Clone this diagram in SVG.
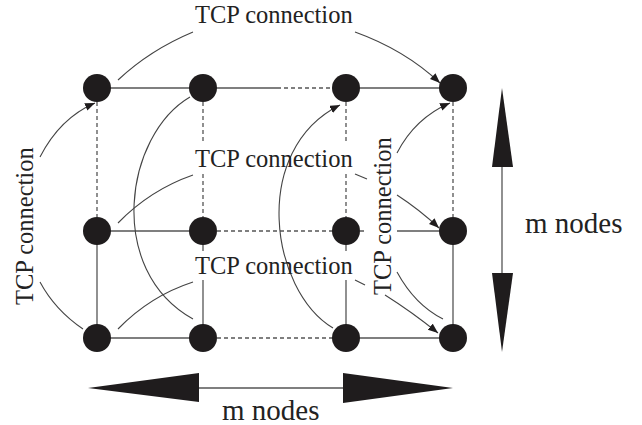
<svg xmlns="http://www.w3.org/2000/svg" width="642" height="425" viewBox="0 0 642 425">
<defs>
<style>
.ln{stroke:#555;stroke-width:1.3;fill:none}
.ds{stroke:#555;stroke-width:1.3;fill:none;stroke-dasharray:4 3}
.cv{stroke:#444;stroke-width:1.1;fill:none}
.nd{fill:#1f1c1d}
.hd{fill:#1f1c1d}
.lb{font-family:"Liberation Serif","Times New Roman",serif;font-size:24.5px;fill:#222}
.mn{font-family:"Liberation Serif","Times New Roman",serif;font-size:29px;fill:#222}
</style>
<marker id="ah" markerUnits="userSpaceOnUse" markerWidth="12" markerHeight="10" refX="10" refY="4" orient="auto">
<path d="M0,0 L10,4 L0,8 Z" fill="#1f1c1d"/>
</marker>
</defs>
<g id="connectors">
<line class="ln" x1="97" y1="88" x2="277" y2="88"/>
<line class="ds" x1="277" y1="88" x2="340" y2="88"/>
<line class="ln" x1="346" y1="88" x2="453" y2="88"/>
<line class="ln" x1="97" y1="231" x2="203" y2="231"/>
<line class="ds" x1="203" y1="231" x2="346" y2="231"/>
<line class="ds" x1="346" y1="231" x2="365" y2="231"/>
<line class="ln" x1="397" y1="231" x2="453" y2="231"/>
<line class="ln" x1="97" y1="338" x2="203" y2="338"/>
<line class="ds" x1="203" y1="338" x2="346" y2="338"/>
<line class="ln" x1="346" y1="338" x2="453" y2="338"/>
<line class="ds" x1="97" y1="102" x2="97" y2="217"/>
<line class="ln" x1="97" y1="231" x2="97" y2="338"/>
<line class="ds" x1="203" y1="102" x2="203" y2="143"/>
<line class="ds" x1="203" y1="174" x2="203" y2="217"/>
<line class="ln" x1="203" y1="231" x2="203" y2="251"/>
<line class="ln" x1="203" y1="280" x2="203" y2="338"/>
<line class="ds" x1="346" y1="102" x2="346" y2="143"/>
<line class="ds" x1="346" y1="174" x2="346" y2="217"/>
<line class="ln" x1="346" y1="231" x2="346" y2="251"/>
<line class="ln" x1="346" y1="280" x2="346" y2="338"/>
<line class="ds" x1="453" y1="102" x2="453" y2="217"/>
<line class="ln" x1="453" y1="231" x2="453" y2="338"/>
<path class="cv" d="M118,80 Q150,50 193,32"/>
<path class="cv" d="M355,32 Q405,50 440,83" marker-end="url(#ah)"/>
<path class="cv" d="M83,329 Q55,310 40,282"/>
<path class="cv" d="M40,157 Q60,118 95,103" marker-end="url(#ah)"/>
<path class="cv" d="M190,97 C125,135 105,270 193,319"/>
<path class="cv" d="M333,328 C270,290 250,150 340,105" marker-end="url(#ah)"/>
<path class="cv" d="M193,175 Q150,190 118,223"/>
<path class="cv" d="M355,174 L367,179"/>
<path class="cv" d="M397,195 Q420,210 439,228" marker-end="url(#ah)"/>
<path class="cv" d="M193,282 Q150,296 118,329"/>
<path class="cv" d="M355,280 L365,285"/>
<path class="cv" d="M385,295 Q412,312 438,333" marker-end="url(#ah)"/>
<path class="cv" d="M397,153 Q415,118 450,103" marker-end="url(#ah)"/>
<path class="cv" d="M397,272 Q415,305 443,319"/>
<line class="ln" x1="502" y1="167" x2="502" y2="273" stroke="#888"/>
<polygon class="hd" points="502,88 492,167 513,167"/>
<polygon class="hd" points="492,273 513,273 502,352"/>
<line class="ln" x1="199" y1="388" x2="343" y2="388"/>
<polygon class="hd" points="88,388 199,373 199,402"/>
<polygon class="hd" points="343,373 343,403 453,388"/>
</g>
<g id="n11"><circle class="nd" cx="97" cy="88" r="14"/></g>
<g id="n12"><circle class="nd" cx="203" cy="88" r="14"/></g>
<g id="n13"><circle class="nd" cx="346" cy="88" r="14"/></g>
<g id="n14"><circle class="nd" cx="453" cy="88" r="14"/></g>
<g id="n21"><circle class="nd" cx="97" cy="231" r="14"/></g>
<g id="n22"><circle class="nd" cx="203" cy="231" r="14"/></g>
<g id="n23"><circle class="nd" cx="346" cy="231" r="14"/></g>
<g id="n24"><circle class="nd" cx="453" cy="231" r="14"/></g>
<g id="n31"><circle class="nd" cx="97" cy="338" r="14"/></g>
<g id="n32"><circle class="nd" cx="203" cy="338" r="14"/></g>
<g id="n33"><circle class="nd" cx="346" cy="338" r="14"/></g>
<g id="n34"><circle class="nd" cx="453" cy="338" r="14"/></g>
<g id="labels" font-family="'Liberation Serif', 'Times New Roman', serif">
<text class="lb" font-family="'Liberation Serif', serif" x="195" y="23">TCP connection</text>
<text class="lb" font-family="'Liberation Serif', serif" x="195" y="167">TCP connection</text>
<text class="lb" font-family="'Liberation Serif', serif" x="195" y="274">TCP connection</text>
<text class="lb" font-family="'Liberation Serif', serif" transform="translate(33,305) rotate(-90)">TCP connection</text>
<text class="lb" font-family="'Liberation Serif', serif" transform="translate(391,295) rotate(-90)">TCP connection</text>
<text class="mn" font-family="'Liberation Serif', serif" x="525" y="233">m nodes</text>
<text class="mn" font-family="'Liberation Serif', serif" x="222" y="420">m nodes</text>
</g>
</svg>
